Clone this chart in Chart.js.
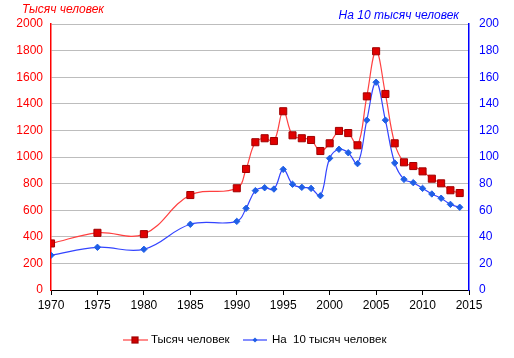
<!DOCTYPE html>
<html><head><meta charset="utf-8">
<script src="https://cdn.jsdelivr.net/npm/chart.js@4"></script>
<style>html,body{margin:0;padding:0;background:#fff}#wrap{width:514px;height:358px}</style>
</head><body><div id="wrap"><canvas id="c" width="514" height="358"></canvas></div>
<script>
const years = [1970,1975,1980,1985,1990,1991,1992,1993,1994,1995,1996,1997,1998,1999,2000,2001,2002,2003,2004,2005,2006,2007,2008,2009,2010,2011,2012,2013,2014];
const thousands = [350,430,420,714,765,910,1111,1141,1120,1344,1163,1141,1128,1045,1103,1196,1180,1088,1456,1795,1474,1103,960,932,892,837,802,750,729];
const per10k = [26.1,32.1,30.6,49.4,51.6,61.4,74.7,76.9,75.9,90.7,79.5,77.2,76.4,70.9,99,105.8,103.2,95,127.7,156.2,127.7,95.5,83.2,80.7,76.4,72.2,69,64.4,62.2];
const leftTicks = [0,200,400,600,800,1000,1200,1400,1600,1800,2000];
const rightTicks = [0,20,40,60,80,100,120,140,160,180,200];
const xTicks = [1970,1975,1980,1985,1990,1995,2000,2005,2010,2015];
const labelLeft = 'Тысяч человек';
const labelRight = 'На 10 тысяч человек';
const seriesNames = ['Тысяч человек','На  10 тысяч человек'];

const FONT = 'Liberation Sans, Arial, sans-serif';
const RED='#ff0000', REDLINE='#ff4040', BLUE='#0000ff', BLUELINE='#3344ff', BLUEPT='#1f5fe6';

const extras = {
  id:'extras',
  afterDraw(chart){
    const ctx = chart.ctx;
    ctx.save();
    ctx.font = 'italic 12px ' + FONT;
    ctx.textBaseline = 'middle';
    ctx.fillStyle = RED; ctx.textAlign='left';
    ctx.fillText(labelLeft, 22, 10);
    ctx.fillStyle = BLUE; ctx.textAlign='right';
    ctx.fillText(labelRight, 459, 16);
    // legend
    const ly = 340;
    ctx.font = '11.5px ' + FONT; ctx.textAlign='left';
    ctx.lineWidth = 1.2;
    ctx.strokeStyle = REDLINE; ctx.beginPath(); ctx.moveTo(123,ly); ctx.lineTo(148,ly); ctx.stroke();
    ctx.fillStyle = '#d00000'; ctx.fillRect(132,ly-3,6,6); ctx.strokeStyle='#a00000'; ctx.strokeRect(132,ly-3,6,6);
    ctx.fillStyle = '#000'; ctx.fillText(seriesNames[0], 151, ly);
    ctx.strokeStyle = BLUELINE; ctx.beginPath(); ctx.moveTo(243,ly); ctx.lineTo(267,ly); ctx.stroke();
    ctx.fillStyle = BLUEPT; ctx.beginPath(); ctx.moveTo(255,ly-2.5); ctx.lineTo(257.5,ly); ctx.lineTo(255,ly+2.5); ctx.lineTo(252.5,ly); ctx.closePath(); ctx.fill();
    ctx.fillStyle = '#000'; ctx.fillText(seriesNames[1], 272, ly);
    ctx.restore();
  }
};

new Chart(document.getElementById('c'), {
  type:'line',
  data:{ datasets:[
    { label:seriesNames[0], data: years.map((y,i)=>({x:y,y:thousands[i]})), yAxisID:'y',
      borderColor:REDLINE, borderWidth:1.2, pointStyle:'rect', pointRadius:5, pointHoverRadius:5,
      pointBackgroundColor:'#e00000', pointBorderColor:'#a00000', pointBorderWidth:1, tension:0.4, fill:false },
    { label:seriesNames[1], data: years.map((y,i)=>({x:y,y:per10k[i]})), yAxisID:'y1',
      borderColor:BLUELINE, borderWidth:1.2, pointStyle:'rectRot', pointRadius:3.2, pointHoverRadius:3.2,
      pointBackgroundColor:BLUEPT, pointBorderColor:BLUEPT, pointBorderWidth:1, tension:0.4, fill:false }
  ]},
  options:{
    responsive:false, animation:false, devicePixelRatio:1,
    layout:{padding:{top:24,left:0,right:0,bottom:0}},
    plugins:{legend:{display:false}, tooltip:{enabled:false}},
    scales:{
      x:{ type:'linear', min:1970, max:2015,
        afterBuildTicks(s){ s.ticks = xTicks.map(v=>({value:v})); },
        afterFit(s){ s.height = 68; },
        grid:{drawOnChartArea:false, drawTicks:true, tickLength:5, color:'#000'},
        border:{color:'#000', width:1},
        ticks:{color:'#000', font:{family:FONT,size:12}, padding:3, maxRotation:0, autoSkip:false, callback:v=>String(v)}
      },
      y:{ position:'left', min:0, max:2000,
        afterBuildTicks(s){ s.ticks = leftTicks.map(v=>({value:v})); },
        afterFit(s){ s.width = 51; },
        grid:{color:'#bdbdbd', drawTicks:false, lineWidth:1},
        border:{color:RED, width:1.5},
        ticks:{color:RED, font:{family:FONT,size:12}, padding:8, callback:v=>String(v)}
      },
      y1:{ position:'right', min:0, max:200,
        afterBuildTicks(s){ s.ticks = rightTicks.map(v=>({value:v})); },
        afterFit(s){ s.width = 45; },
        grid:{drawOnChartArea:false, drawTicks:false},
        border:{color:BLUE, width:1.5},
        ticks:{color:BLUE, font:{family:FONT,size:12}, padding:10, callback:v=>String(v)}
      }
    }
  },
  plugins:[extras]
});
</script></body></html>
